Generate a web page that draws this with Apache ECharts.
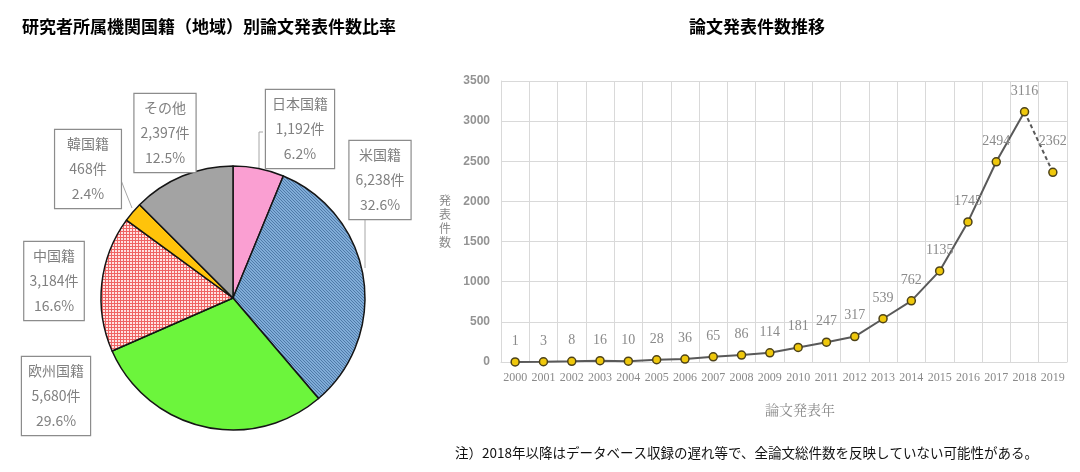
<!DOCTYPE html>
<html>
<head>
<meta charset="utf-8">
<script src="https://cdn.jsdelivr.net/npm/echarts@6/dist/echarts.min.js"></script>
<style>html,body{margin:0;padding:0;background:#fff}#c{width:1080px;height:472px}</style>
</head>
<body>
<div id="c"></div>
<script>
// ---- data ----
const pieNames = ['日本国籍', '米国籍', '欧州国籍', '中国籍', '韓国籍', 'その他'];
const pieValues = [1192, 6238, 5680, 3184, 468, 2397];
const years = ['2000','2001','2002','2003','2004','2005','2006','2007','2008','2009',
               '2010','2011','2012','2013','2014','2015','2016','2017','2018','2019'];
const paperCounts = [1, 3, 8, 16, 10, 28, 36, 65, 86, 114, 181, 247, 317, 539, 762, 1135, 1745, 2494, 3116, 2362];
const yTicks = { min: 0, max: 3500, interval: 500 };

// ---- styles / layout (not data) ----
function pattern(kind) {
  const c = document.createElement('canvas');
  const ctx = c.getContext('2d');
  if (kind === 'hatch') {
    c.width = 3; c.height = 3;
    ctx.fillStyle = '#80acd8'; ctx.fillRect(0, 0, 3, 3);
    ctx.fillStyle = '#4f7aa8';
    ctx.fillRect(0, 0, 1, 1); ctx.fillRect(1, 1, 1, 1); ctx.fillRect(2, 2, 1, 1);
  } else {
    c.width = 3; c.height = 3;
    ctx.fillStyle = '#ffe2e2'; ctx.fillRect(0, 0, 3, 3);
    ctx.fillStyle = '#ef6464';
    ctx.fillRect(0, 0, 3, 1); ctx.fillRect(0, 0, 1, 3);
  }
  return { image: c, repeat: 'repeat' };
}
const pieColors = ['#fa9fd2', pattern('hatch'), '#6cf53c', pattern('grid'), '#ffc30a', '#a3a3a3'];
const pieLabelLayout = [
  { x: 300, y: 129, line: [[259, 170], [259, 132], [263, 132]] },
  { x: 380, y: 180, line: [[365, 268], [365, 240], [365, 219]] },
  { x: 56,  y: 396, line: null },
  { x: 54,  y: 281, line: null },
  { x: 88,  y: 169, line: [[132, 208], [124, 188], [116, 167]] },
  { x: 165, y: 133, line: null }
];

const total = pieValues.reduce((a, b) => a + b, 0);
const pieData = pieNames.map((n, i) => ({
  name: n, value: pieValues[i],
  itemStyle: { color: pieColors[i] },
  labelLine: { show: !!pieLabelLayout[i].line }
}));

const solidData = paperCounts.map((v, i) => i <= 18 ? v : '-');
const dashData = paperCounts.map((v, i) => i >= 18 ? v : '-');

const gray = '#8a8a8a';
const chart = echarts.init(document.getElementById('c'));
chart.setOption({
  animation: false,
  backgroundColor: '#fff',
  title: [
    { text: '研究者所属機関国籍（地域）別論文発表件数比率', left: 17, top: 13,
      textStyle: { fontFamily: 'Noto Sans CJK JP', fontSize: 17, fontWeight: 'bold', color: '#000' } },
    { text: '論文発表件数推移', left: 752, top: 13, textAlign: 'center',
      textStyle: { fontFamily: 'Noto Sans CJK JP', fontSize: 17, fontWeight: 'bold', color: '#000' } }
  ],
  graphic: [
    { type: 'text', left: 455, top: 446,
      style: { text: '注）2018年以降はデータベース収録の遅れ等で、全論文総件数を反映していない可能性がある。',
               font: '13.5px "Noto Sans CJK JP"', fill: '#111' } }
  ],
  grid: { left: 501, right: 13, top: 81, bottom: 110 },
  xAxis: {
    type: 'category', data: years, boundaryGap: true,
    axisLine: { show: true, lineStyle: { color: '#d9d9d9' } },
    axisTick: { show: false },
    axisLabel: { interval: 0, margin: 10, color: gray, fontFamily: 'Liberation Serif', fontSize: 12 },
    splitLine: { show: true, interval: 0, lineStyle: { color: '#d9d9d9' } },
    name: '論文発表年', nameLocation: 'middle', nameGap: 41,
    nameTextStyle: { color: gray, fontFamily: 'Noto Serif CJK JP, Noto Sans CJK JP', fontSize: 14, padding: [0, 0, 0, 32] }
  },
  yAxis: {
    type: 'value', min: yTicks.min, max: yTicks.max, interval: yTicks.interval,
    axisLine: { show: true, lineStyle: { color: '#d9d9d9' } },
    axisTick: { show: false },
    axisLabel: { margin: 11, color: '#939393', fontFamily: 'Liberation Sans', fontSize: 12, fontWeight: 'bold',
                 formatter: v => String(v) },
    splitLine: { show: true, lineStyle: { color: '#d9d9d9' } },
    name: '発\n表\n件\n数', nameLocation: 'middle', nameGap: 50, nameRotate: 0,
    nameTextStyle: { color: gray, fontFamily: 'Noto Sans CJK JP', fontSize: 12, lineHeight: 14 }
  },
  series: [
    {
      type: 'pie', center: [233, 298], radius: 132, startAngle: 90, clockwise: true,
      data: pieData, silent: true,
      itemStyle: { borderColor: '#151515', borderWidth: 1.5 },
      label: {
        show: true, position: 'outside', align: 'center', overflow: 'none', edgeDistance: 0, bleedMargin: 0,
        formatter: p => p.name + '\n' + echarts.format.addCommas(p.value) + '件\n' + (p.value / total * 100).toFixed(1) + '%',
        color: '#808080', fontFamily: 'Noto Sans CJK JP', fontSize: 14, lineHeight: 25,
        backgroundColor: '#fff', borderColor: '#8c8c8c', borderWidth: 1.2, padding: [2, 6, 1, 6]
      },
      labelLine: { show: true, lineStyle: { color: '#a6a6a6', width: 1 } },
      labelLayout: p => {
        const L = pieLabelLayout[p.dataIndex];
        const r = { x: L.x, y: L.y, align: 'center', verticalAlign: 'middle' };
        if (L.line) r.labelLinePoints = L.line;
        return r;
      }
    },
    {
      type: 'line', data: solidData, symbol: 'none', silent: true,
      lineStyle: { color: '#595959', width: 2 }, z: 3
    },
    {
      type: 'line', data: dashData, symbol: 'none', silent: true,
      lineStyle: { color: '#595959', width: 2, type: [4, 3] }, z: 3
    },
    {
      type: 'scatter', data: paperCounts, symbol: 'circle', symbolSize: 8, silent: true, z: 4,
      itemStyle: { color: '#efc80c', borderColor: '#4d4219', borderWidth: 1.5, opacity: 1 },
      label: { show: true, position: 'top', distance: 9, color: '#8a8a8a',
               fontFamily: 'Liberation Serif', fontSize: 14, formatter: p => String(p.value) },
      labelLayout: p => p.dataIndex === 19 ? { dy: -10 } : {}
    }
  ]
});
</script>
</body>
</html>
